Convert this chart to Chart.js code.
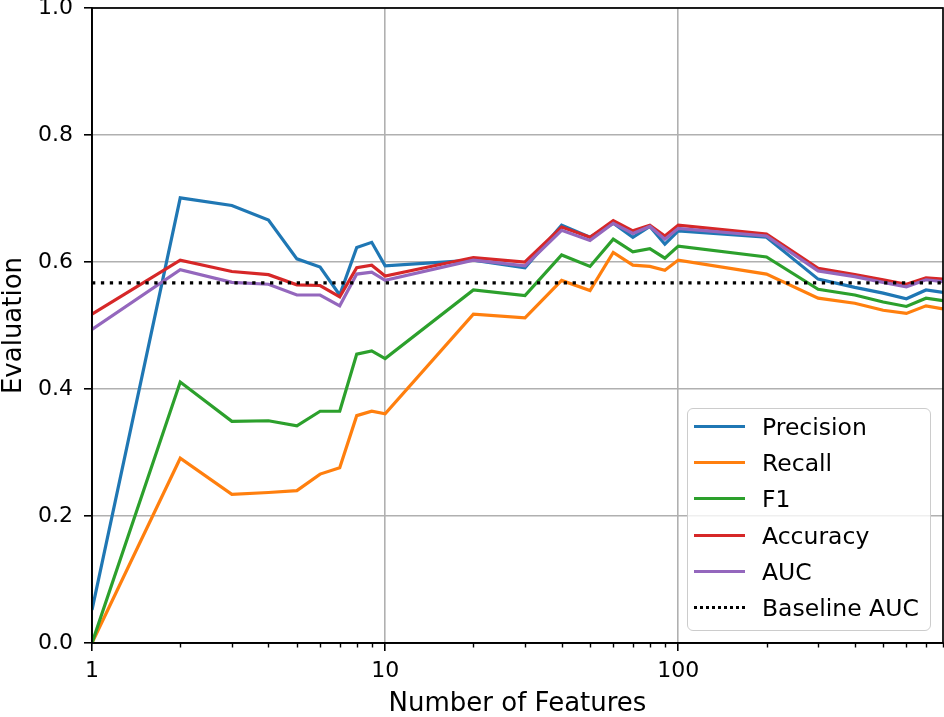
<!DOCTYPE html>
<html><head><meta charset="utf-8">
<script src="https://cdn.jsdelivr.net/npm/chart.js@4.4.1/dist/chart.umd.min.js"></script>
<style>
html,body{margin:0;padding:0;background:#fff;}
#wrap{position:relative;width:944px;height:717px;overflow:hidden;}
#legend{position:absolute;left:687px;top:408px;width:244px;height:223px;border:1.5px solid #cccccc;border-radius:6px;background:rgba(255,255,255,0.8);font-family:'DejaVu Sans',sans-serif;font-size:23.5px;color:#000;box-sizing:border-box;}
.item{position:absolute;left:0;width:100%;height:30px;}
.sw{position:absolute;left:6px;width:51px;top:13.5px;height:0;}
.lbl{position:absolute;left:74px;top:0;line-height:30px;white-space:nowrap;}
</style></head>
<body>
<div id="wrap">
<canvas id="c" width="944" height="717"></canvas>
<div id="legend"></div>
</div>
<script>
const features = [1,2,3,4,5,6,7,8,9,10,20,30,40,50,60,70,80,90,100,200,300,400,500,600,700,800];
const precision = [0.052,0.701,0.689,0.666,0.605,0.592,0.548,0.623,0.631,0.594,0.603,0.591,0.658,0.639,0.661,0.639,0.656,0.628,0.649,0.639,0.573,0.560,0.551,0.542,0.556,0.552];
const recall = [0.000,0.291,0.234,0.237,0.240,0.266,0.276,0.358,0.365,0.361,0.518,0.512,0.571,0.555,0.615,0.595,0.593,0.587,0.603,0.581,0.543,0.535,0.524,0.519,0.531,0.526];
const f1 = [0.000,0.411,0.349,0.350,0.342,0.365,0.365,0.455,0.460,0.448,0.556,0.547,0.611,0.593,0.636,0.616,0.621,0.606,0.625,0.608,0.557,0.548,0.537,0.530,0.543,0.539];
const accuracy = [0.518,0.603,0.585,0.580,0.564,0.563,0.545,0.591,0.595,0.578,0.607,0.600,0.655,0.639,0.665,0.649,0.658,0.641,0.658,0.644,0.590,0.580,0.572,0.565,0.575,0.573];
const auc = [0.494,0.588,0.568,0.565,0.548,0.548,0.531,0.581,0.584,0.571,0.603,0.594,0.650,0.634,0.661,0.645,0.656,0.636,0.653,0.641,0.586,0.577,0.568,0.561,0.572,0.569];
const baselineAUC = 0.567;
const seriesNames = ['Precision','Recall','F1','Accuracy','AUC','Baseline AUC'];
const seriesColors = ['#1f77b4','#ff7f0e','#2ca02c','#d62728','#9467bd','#000000'];
const xTicks = [1,2,3,4,5,6,7,8,9,10,20,30,40,50,60,70,80,90,100,200,300,400,500,600,700,800];
const xLabeled = [1,10,100];
const yTicks = [0,0.2,0.4,0.6,0.8,1.0];

const FONT = "'DejaVu Sans', sans-serif";
const seriesData = [precision, recall, f1, accuracy, auc];
const datasets = seriesData.map((arr, i) => ({
  label: seriesNames[i],
  data: arr.map((v, j) => ({x: features[j], y: v})),
  borderColor: seriesColors[i],
  backgroundColor: seriesColors[i],
  borderWidth: 3.2,
  pointRadius: 0,
  tension: 0,
  fill: false,
  order: 10 - i
}));
datasets.push({
  label: seriesNames[5],
  data: [{x: features[0], y: baselineAUC}, {x: features[features.length-1], y: baselineAUC}],
  borderColor: '#000',
  borderWidth: 3.3,
  borderDash: [3.3, 5.6],
  borderCapStyle: 'butt',
  pointRadius: 0,
  fill: false,
  order: 1
});

const framePlugin = {
  id: 'frame',
  afterDatasetsDraw(chart) {
    const {ctx, chartArea: a, scales} = chart;
    ctx.save();
    const xs = scales.x;
    ctx.strokeStyle = '#000';
    ctx.lineWidth = 1.4;
    xTicks.forEach(v => {
      if (xLabeled.includes(v)) return;
      const px = Math.round(xs.getPixelForValue(v)) + 0.5;
      ctx.beginPath();
      ctx.moveTo(px, a.bottom);
      ctx.lineTo(px, a.bottom + 4.5);
      ctx.stroke();
    });
    ctx.lineWidth = 1.7;
    ctx.strokeRect(a.left, a.top, a.right - a.left, a.bottom - a.top);
    ctx.restore();
  }
};

new Chart(document.getElementById('c'), {
  type: 'line',
  data: {datasets},
  options: {
    responsive: false,
    animation: false,
    devicePixelRatio: 1,
    layout: {padding: {left: 0, right: 1, top: 8, bottom: 0}},
    plugins: {legend: {display: false}, tooltip: {enabled: false}},
    scales: {
      x: {
        type: 'logarithmic',
        min: 1, max: 800,
        afterBuildTicks(s) { s.ticks = xTicks.map(v => ({value: v})); },
        afterFit(s) { s.height = 74; s.paddingLeft = 0; s.paddingRight = 0; },
        ticks: {
          autoSkip: false, maxRotation: 0, minRotation: 0, padding: 7,
          color: '#000', font: {family: FONT, size: 22},
          callback: (v) => xLabeled.includes(v) ? String(v) : ''
        },
        grid: {
          color: (c) => (c.tick && xLabeled.includes(c.tick.value)) ? '#b0b0b0' : 'rgba(0,0,0,0)',
          lineWidth: 1.6,
          tickColor: (c) => (c.tick && xLabeled.includes(c.tick.value)) ? '#000' : 'rgba(0,0,0,0)',
          tickLength: 8,
          tickWidth: 1.6
        },
        border: {display: true, color: '#000', width: 1.7},
        title: {display: true, text: 'Number of Features', color: '#000', font: {family: FONT, size: 26, lineHeight: 1.0}, padding: {top: 0, bottom: 0}}
      },
      y: {
        min: 0, max: 1,
        afterBuildTicks(s) { s.ticks = yTicks.map(v => ({value: v})); },
        afterFit(s) { s.width = 92; s.paddingTop = 0; s.paddingBottom = 0; },
        ticks: {
          padding: 11, color: '#000', font: {family: FONT, size: 22},
          callback: (v) => Number(v).toFixed(1)
        },
        grid: {color: '#b0b0b0', lineWidth: 1.6, tickColor: '#000', tickLength: 8, tickWidth: 1.6},
        border: {display: true, color: '#000', width: 1.7},
        title: {display: true, text: 'Evaluation', color: '#000', font: {family: FONT, size: 26, lineHeight: 1.0}, padding: {top: 1, bottom: 0}}
      }
    }
  },
  plugins: [framePlugin]
});

const lg = document.getElementById('legend');
const rowTops = [19, 55, 91, 128, 164, 200];
seriesNames.forEach((n, i) => {
  const it = document.createElement('div');
  it.className = 'item';
  it.style.top = (rowTops[i] - 15 - 1.5) + 'px';
  const sw = document.createElement('div');
  sw.className = 'sw';
  sw.style.borderTop = i === 5 ? '3px dotted #000' : '3px solid ' + seriesColors[i];
  const lb = document.createElement('div');
  lb.className = 'lbl';
  lb.textContent = n;
  it.appendChild(sw); it.appendChild(lb);
  lg.appendChild(it);
});
</script>
</body></html>
